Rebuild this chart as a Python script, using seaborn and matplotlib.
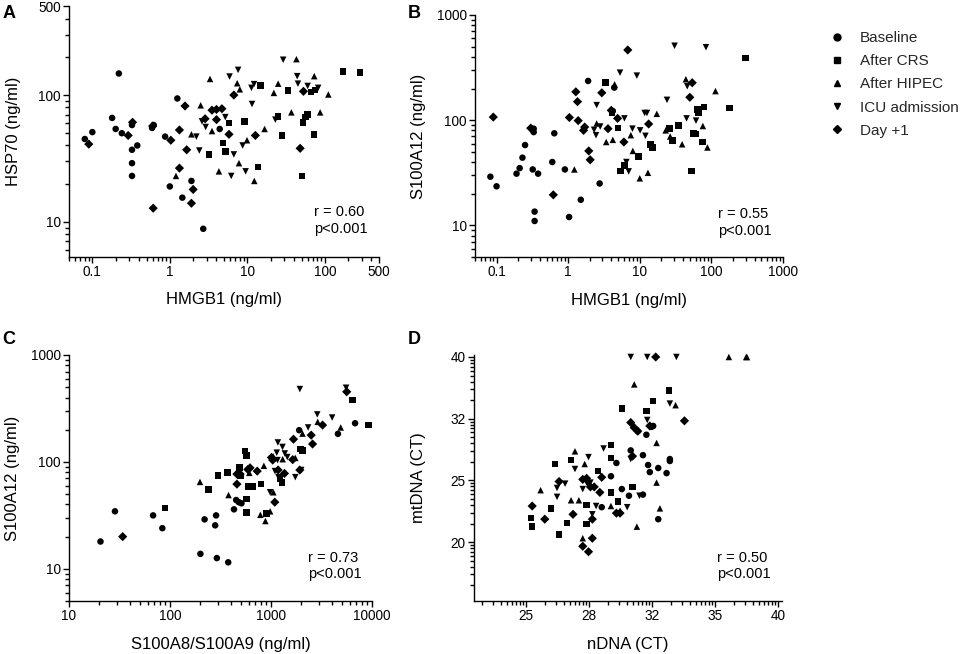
import math
import numpy as np
import pandas as pd
import matplotlib
matplotlib.use("Agg")
import matplotlib.pyplot as plt
from matplotlib.lines import Line2D
from matplotlib.ticker import FixedLocator, LogLocator, NullFormatter
import seaborn as sns

STAGES = ["Baseline", "After CRS", "After HIPEC", "ICU admission", "Day +1"]
MARKERS = {"Baseline": "o", "After CRS": "s", "After HIPEC": "^",
           "ICU admission": "v", "Day +1": "D"}

# A: HMGB1 vs HSP70
A_BASELINE = [(0.08, 45), (0.1, 51), (0.22, 148), (0.18, 66), (0.2, 54), (0.24, 50),
              (0.325, 58), (0.325, 37), (0.325, 29), (0.325, 23), (0.38, 40), (0.59, 55),
              (0.62, 58), (0.87, 47), (1.25, 94), (1.0, 19), (1.45, 15.5), (1.9, 21),
              (2.7, 8.8), (4.4, 54)]
A_CRS = [(3.2, 34), (4.85, 42), (5.2, 36), (5.8, 60), (9.2, 62), (13.7, 27), (14.7, 119),
         (25, 68), (28, 48), (33.5, 109), (51, 23), (52, 61), (56, 67), (60, 70), (73, 49),
         (66, 106), (75, 110), (171, 154), (284, 151)]
A_HIPEC = [(3.3, 134), (2.5, 83), (3.5, 52), (1.9, 49), (1.2, 23), (4.3, 25), (7.4, 124),
           (8.0, 111), (7.8, 29), (9.9, 44), (12.3, 21), (16.7, 54), (22, 104), (25, 123),
           (37, 73), (43, 192), (73, 141), (87, 73), (111, 101)]
A_ICU = [(5.9, 140), (7.6, 158), (2.6, 62), (2.9, 56), (2.2, 47), (2.4, 36.5), (5.2, 67),
         (6.7, 34), (6.2, 23), (8.7, 40), (9.5, 25), (11.3, 114), (12.2, 122), (11.5, 85),
         (29, 190), (44, 141), (45, 123), (60, 118), (82, 114), (23, 64)]
A_DAY1 = [(0.09, 41), (0.29, 48), (0.33, 61), (0.6, 57), (0.61, 12.8), (1.03, 44), (1.33, 53),
          (1.57, 82), (1.33, 26.5), (1.65, 37), (2.0, 18), (1.9, 14), (2.85, 65), (3.5, 76),
          (4.0, 77), (4.7, 78), (4.0, 64), (5.8, 49), (6.7, 100), (12.7, 48), (48, 38),
          (53, 107)]

# B: HMGB1 vs S100A12
B_BASELINE = [(0.082, 29), (0.1, 23.5), (0.19, 31), (0.21, 35), (0.23, 44), (0.25, 58),
              (0.32, 34), (0.38, 31), (0.34, 13.5), (0.34, 11), (0.33, 77), (0.33, 83),
              (0.64, 75), (0.6, 40), (0.9, 34), (1.03, 12), (1.5, 17.5), (1.9, 236),
              (2.75, 25), (4.4, 204), (4.2, 122)]
B_CRS = [(3.3, 227), (4.1, 117), (5.0, 84), (5.4, 33), (6.1, 37), (9.6, 45), (14, 59),
         (15, 55), (25.8, 83), (28.7, 64), (35, 89), (53, 33), (56, 75), (60, 74), (64, 127),
         (66, 117), (79, 133), (75, 62), (178, 130), (297, 388)]
B_HIPEC = [(1.22, 34), (3.4, 62), (4.2, 65), (4.45, 219), (2.5, 93), (7.5, 72), (8.0, 51),
           (10, 28), (13, 31.6), (17.3, 115), (23, 80), (26.6, 70), (39, 59), (44, 245),
           (76, 88), (88, 55), (114, 189)]
B_ICU = [(5.3, 283), (9.1, 265), (2.5, 139), (2.3, 81), (2.45, 72), (2.8, 87), (6.1, 104),
         (6.5, 40), (7.0, 32.6), (7.9, 83), (10.1, 80), (11.7, 117), (12.6, 117), (12, 71),
         (24, 156), (30.6, 510), (45, 104), (46, 210), (61, 99), (84, 494)]
B_DAY1 = [(0.09, 107), (0.3, 84), (0.62, 19.5), (1.04, 106), (1.28, 186), (1.35, 150),
          (1.38, 99), (1.64, 80), (1.7, 86), (1.94, 51), (2.03, 42), (2.95, 182), (3.6, 83),
          (4.0, 124), (4.9, 104), (6.0, 62), (6.8, 465), (13.3, 92), (50, 165), (54, 227)]

# C: S100A8/S100A9 vs S100A12
C_BASELINE = [(20.5, 18), (28.5, 34.5), (68, 31.6), (84, 24), (200, 13.8), (220, 29),
              (286, 31.6), (280, 25.5), (291, 12.6), (377, 11.5), (430, 36), (452, 44),
              (480, 42), (510, 41), (1900, 198), (4600, 183), (6800, 230)]
C_CRS = [(89, 37), (240, 55), (300, 75), (370, 80), (490, 89), (550, 127), (575, 115),
         (500, 74), (570, 45), (575, 33.5), (600, 59), (655, 59), (800, 62), (1285, 64),
         (1230, 70), (1950, 132), (2050, 128), (6400, 380), (9200, 222), (906, 33)]
C_HIPEC = [(198, 65), (380, 49), (620, 90), (610, 79), (785, 32), (880, 28), (980, 34.5),
           (850, 92), (1055, 52), (1050, 113), (1740, 109), (2050, 184), (2900, 237),
           (4900, 210), (1304, 106)]
C_ICU = [(1930, 480), (5540, 494), (2870, 278), (4030, 260), (2330, 210), (1170, 152),
         (1300, 138), (1450, 111), (1160, 104), (1095, 82), (1185, 72), (1740, 72),
         (1990, 84), (1370, 120), (980, 52), (1140, 122)]
C_DAY1 = [(34, 20), (460, 62), (495, 77), (460, 77), (590, 85), (730, 82), (1040, 104),
          (1010, 110), (1090, 42), (1360, 78), (1640, 105), (1670, 163), (1930, 84),
          (2580, 147), (2500, 178), (3240, 221), (5620, 453), (620, 88), (1175, 84)]

# D: nDNA vs mtDNA (CT)
D_BASELINE = [(29.3, 25.6), (28.8, 22.8), (29.6, 26.9), (29.9, 24.4), (30.3, 23.8),
              (30.4, 28.2), (30.8, 30.3), (31.1, 23.9), (31.1, 27.7), (31.3, 29.9),
              (31.4, 26.7), (31.5, 26.0), (31.6, 30.8), (31.7, 30.9), (32.0, 26.4),
              (32.5, 25.9), (32.7, 27.1), (32.7, 27.3), (32.0, 21.8)]
D_CRS = [(25.25, 21.9), (25.3, 21.2), (26.2, 22.7), (26.4, 26.8), (26.6, 20.6), (27.0, 21.5),
         (27.2, 27.2), (28.0, 21.4), (28.0, 23.0), (28.6, 26.1), (29.3, 28.8), (29.3, 27.4),
         (29.3, 24.1), (29.7, 23.3), (29.9, 33.0), (30.5, 24.6), (31.3, 32.7), (31.7, 33.9),
         (32.65, 35.3)]
D_HIPEC = [(25.7, 24.3), (27.2, 23.4), (27.4, 28.1), (27.6, 23.4), (27.8, 20.3), (27.9, 26.8),
           (29.3, 22.9), (29.8, 22.5), (30.6, 36.1), (30.75, 21.2), (31.9, 29.0), (31.9, 25.0),
           (32.1, 22.7), (33.05, 33.4), (36.5, 40), (37.7, 40), (37.75, 40)]
D_ICU = [(26.5, 24.5), (26.5, 23.7), (26.9, 24.9), (27.4, 26.3), (27.8, 24.4), (28.1, 27.5),
         (28.0, 25.0), (28.1, 24.8), (28.2, 25.0), (28.3, 22.2), (28.5, 22.9), (28.9, 28.4),
         (30.2, 22.8), (30.4, 40), (31.35, 40), (33.1, 40), (30.4, 27.3), (30.9, 23.8),
         (32.7, 33.6), (31.35, 31.6)]
D_DAY1 = [(25.3, 22.9), (25.9, 21.8), (26.6, 25.1), (27.3, 22.2), (27.8, 19.7), (28.1, 19.3),
          (28.3, 20.3), (28.3, 21.8), (27.8, 25.3), (28.0, 25.4), (28.2, 24.6), (28.4, 24.6),
          (28.7, 24.1), (28.8, 25.5), (29.6, 22.3), (29.8, 22.3), (30.4, 31.3), (30.6, 30.7),
          (30.8, 30.3), (30.5, 27.6), (31.5, 30.9), (31.85, 40), (33.6, 31.5)]

STATS = {"A": "r = 0.60\np<0.001", "B": "r = 0.55\np<0.001",
         "C": "r = 0.73\np<0.001", "D": "r = 0.50\np<0.001"}
D_XTICK_LABELS = ["25", "28", "32", "35", "40"]
D_YTICK_LABELS = ["20", "25", "32", "40"]


def to_frame(groups):
    rows = []
    for stage, pts in zip(STAGES, groups):
        for x, y in pts:
            rows.append((stage, x, y))
    return pd.DataFrame(rows, columns=["stage", "x", "y"])


def geo_ticks(a, b, n):
    # GraphPad style: evenly spaced major ticks on a log axis
    return [a * (b / a) ** (k / n) for k in range(n + 1)]


def geo_minor(major):
    # log-like subdivision inside every major interval (one extra below)
    step = major[1] / major[0]
    edges = [major[0] / step] + list(major)
    out = []
    for lo, hi in zip(edges[:-1], edges[1:]):
        for k in range(2, 10):
            out.append(lo * (hi / lo) ** math.log10(k))
    return out


def style_axis(ax):
    sns.despine(ax=ax)
    for sp in ["left", "bottom"]:
        ax.spines[sp].set_linewidth(1.0)
        ax.spines[sp].set_color("black")
    ax.tick_params(which="major", direction="out", length=4, width=1.0,
                   color="black", labelsize=9.8, pad=2, labelcolor="black")
    ax.tick_params(which="minor", direction="out", length=2.8, width=1.0,
                   color="black", bottom=True, left=True)
    ax.xaxis.set_minor_formatter(NullFormatter())
    ax.yaxis.set_minor_formatter(NullFormatter())


def main():
    sns.set_theme(style="ticks")
    plt.rcParams["font.family"] = ["Liberation Sans", "DejaVu Sans"]
    plt.rcParams["xtick.minor.size"] = 2.8
    plt.rcParams["ytick.minor.size"] = 2.8
    plt.rcParams["xtick.minor.visible"] = True
    plt.rcParams["ytick.minor.visible"] = True

    W, H = 965, 654
    fig = plt.figure(figsize=(9.65, 6.54), dpi=100)

    def rect(l, r, t, b):
        return [l / W, 1 - b / H, (r - l) / W, (b - t) / H]

    panels = {
        "A": dict(groups=[A_BASELINE, A_CRS, A_HIPEC, A_ICU, A_DAY1], box=rect(69, 379, 6.5, 256.7),
                  xlim=(0.05, 500), ylim=(5.3, 500), xt=[0.1, 1, 10, 100, 500], yt=[10, 100, 500],
                  xl="HMGB1 (ng/ml)", yl="HSP70 (ng/ml)", letter=(9, 14)),
        "B": dict(groups=[B_BASELINE, B_CRS, B_HIPEC, B_ICU, B_DAY1], box=rect(475, 783, 15, 257),
                  xlim=(0.05, 1000), ylim=(5, 1000), xt=[0.1, 1, 10, 100, 1000], yt=[10, 100, 1000],
                  xl="HMGB1 (ng/ml)", yl="S100A12 (ng/ml)", letter=(414, 13)),
        "C": dict(groups=[C_BASELINE, C_CRS, C_HIPEC, C_ICU, C_DAY1], box=rect(69, 372, 355, 601),
                  xlim=(10, 10000), ylim=(5, 1000), xt=[10, 100, 1000, 10000], yt=[10, 100, 1000],
                  xl="S100A8/S100A9 (ng/ml)", yl="S100A12 (ng/ml)", letter=(9, 340)),
        "D": dict(groups=[D_BASELINE, D_CRS, D_HIPEC, D_ICU, D_DAY1], box=rect(474, 782, 355, 601),
                  xlim=(22.7, 40.3), ylim=(16.05, 40.3), xt=None, yt=None,
                  xl="nDNA (CT)", yl="mtDNA (CT)", letter=(414, 340)),
    }

    for name, p in panels.items():
        ax = fig.add_axes(p["box"])
        df = to_frame(p["groups"])
        sns.scatterplot(data=df, x="x", y="y", style="stage", style_order=STAGES,
                        markers=MARKERS, color="black", s=22, linewidth=0,
                        legend=False, ax=ax, clip_on=False, zorder=3)
        ax.set_xscale("log")
        ax.set_yscale("log")
        ax.set_xlim(*p["xlim"])
        ax.set_ylim(*p["ylim"])
        if name == "D":
            xt = geo_ticks(25, 40, 4)
            yt = geo_ticks(20, 40, 3)
            ax.xaxis.set_major_locator(FixedLocator(xt))
            ax.yaxis.set_major_locator(FixedLocator(yt))
            ax.set_xticklabels(D_XTICK_LABELS)
            ax.set_yticklabels(D_YTICK_LABELS)
            xm = [v for v in geo_minor(xt) if p["xlim"][0] <= v <= p["xlim"][1]]
            ym = [v for v in geo_minor(yt) if p["ylim"][0] <= v <= p["ylim"][1]]
            ax.xaxis.set_minor_locator(FixedLocator(xm))
            ax.yaxis.set_minor_locator(FixedLocator(ym))
        else:
            ax.xaxis.set_major_locator(FixedLocator(p["xt"]))
            ax.yaxis.set_major_locator(FixedLocator(p["yt"]))
            ax.set_xticklabels([f"{v:g}" for v in p["xt"]])
            ax.set_yticklabels([f"{v:g}" for v in p["yt"]])
            ax.xaxis.set_minor_locator(LogLocator(base=10, subs=np.arange(2, 10), numticks=50))
            ax.yaxis.set_minor_locator(LogLocator(base=10, subs=np.arange(2, 10), numticks=50))
        style_axis(ax)
        ax.set_xlabel(p["xl"], fontsize=12, color="black")
        ax.set_ylabel(p["yl"], fontsize=12, color="black")
        ax.xaxis.label.set_va("center")
        ax.yaxis.label.set_va("center")
        l, b, w, h = p["box"]
        ax.xaxis.set_label_coords(0.5, -(43 / H) / h)
        ax.yaxis.set_label_coords(-(56 / W) / w, 0.5)
        ax.text(0.79, 0.205, STATS[name], transform=ax.transAxes, ha="left", va="top",
                fontsize=10.5, linespacing=1.25, color="black")
        lx, ly = p["letter"]
        fig.text(lx / W, 1 - ly / H, name, fontsize=13, fontweight="bold",
                 ha="center", va="center", color="black")

    handles = [Line2D([], [], marker=MARKERS[s], color="black", linestyle="none",
                      markersize=5 if MARKERS[s] != "D" else 4.4) for s in STAGES]
    fig.legend(handles, STAGES, loc="upper left", bbox_to_anchor=(829 / W, 1 - 31 / H),
               frameon=False, fontsize=11, handlelength=1.0, handletextpad=1.0,
               labelspacing=0.6, borderpad=0, borderaxespad=0)

    fig.savefig("out.png", dpi=100)


if __name__ == "__main__":
    main()
